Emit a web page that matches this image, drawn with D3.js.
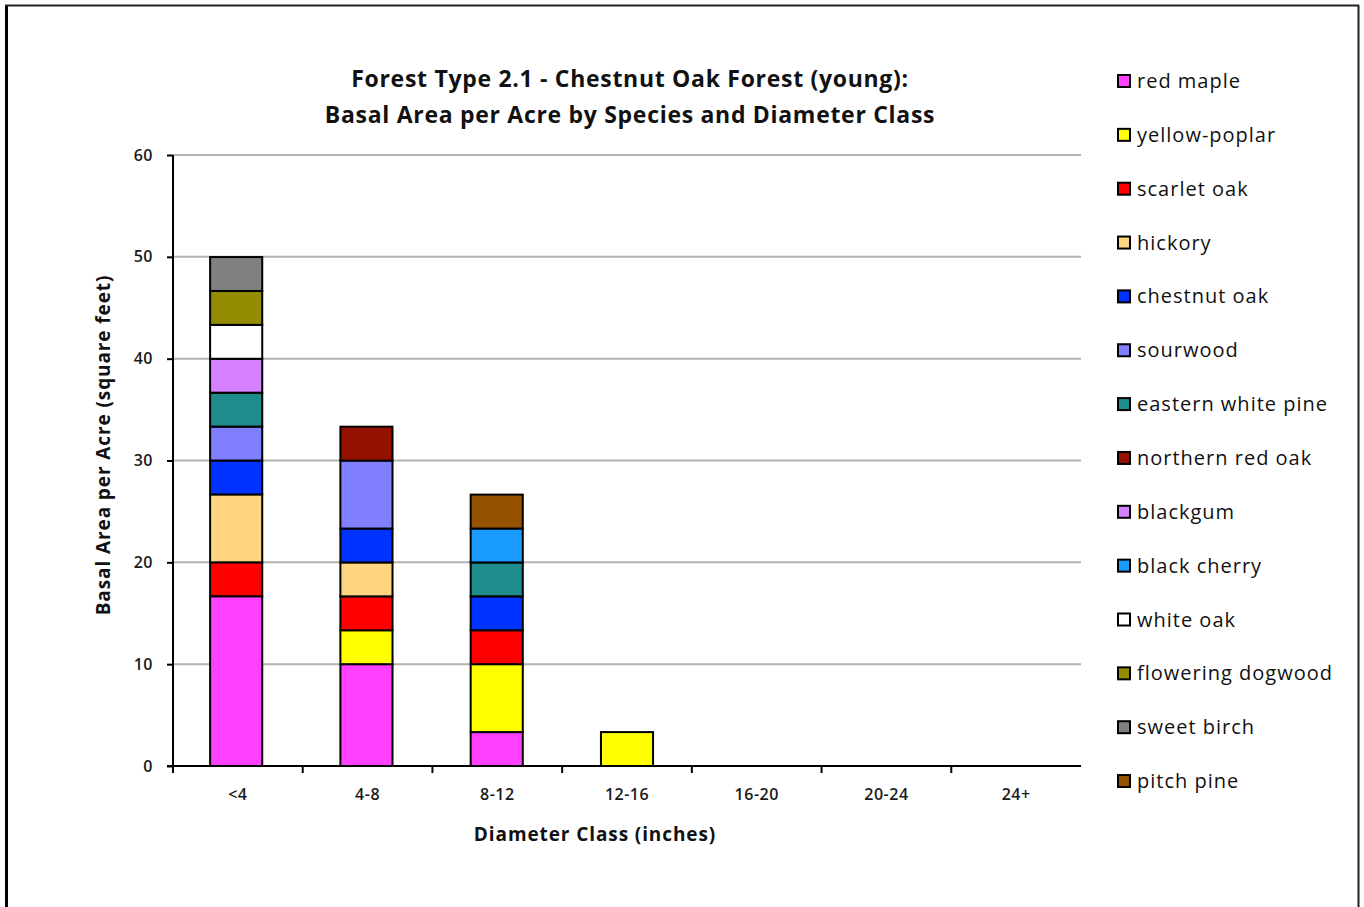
<!DOCTYPE html>
<html>
<head>
<meta charset="utf-8">
<script src="https://cdn.jsdelivr.net/npm/d3@7"></script>
<style>
  html, body { margin: 0; padding: 0; background: #fff; }
  svg { display: block; font-family: "Open Sans", Lato, sans-serif; }
</style>
</head>
<body>
<svg id="chart" width="1364" height="907"></svg>
<script>
// Diameter classes along the x axis
const diameterClasses = ["<4", "4-8", "8-12", "12-16", "16-20", "20-24", "24+"];

// Species in stacking / legend order
const species = ["red maple", "yellow-poplar", "scarlet oak", "hickory", "chestnut oak",
  "sourwood", "eastern white pine", "northern red oak", "blackgum", "black cherry",
  "white oak", "flowering dogwood", "sweet birch", "pitch pine"];

const speciesColors = ["#FF40FF", "#FFFF00", "#FF0000", "#FFD580", "#0033FF",
  "#8080FF", "#1F8C8C", "#941100", "#D580FF", "#1A9BFF",
  "#FFFFFF", "#948C00", "#808080", "#945200"];

// Basal area (sq ft / acre) per species, one value per diameter class
const redMaple         = [16.67, 10,    3.33, 0,    0, 0, 0];
const yellowPoplar     = [0,     3.33,  6.67, 3.33, 0, 0, 0];
const scarletOak       = [3.33,  3.33,  3.33, 0,    0, 0, 0];
const hickory          = [6.67,  3.33,  0,    0,    0, 0, 0];
const chestnutOak      = [3.33,  3.33,  3.33, 0,    0, 0, 0];
const sourwood         = [3.33,  6.67,  0,    0,    0, 0, 0];
const easternWhitePine = [3.33,  0,     3.33, 0,    0, 0, 0];
const northernRedOak   = [0,     3.33,  0,    0,    0, 0, 0];
const blackgum         = [3.33,  0,     0,    0,    0, 0, 0];
const blackCherry      = [0,     0,     3.33, 0,    0, 0, 0];
const whiteOak         = [3.33,  0,     0,    0,    0, 0, 0];
const floweringDogwood = [3.33,  0,     0,    0,    0, 0, 0];
const sweetBirch       = [3.33,  0,     0,    0,    0, 0, 0];
const pitchPine        = [0,     0,     3.33, 0,    0, 0, 0];

const yTicks = [0, 10, 20, 30, 40, 50, 60];

const seriesValues = [redMaple, yellowPoplar, scarletOak, hickory, chestnutOak,
  sourwood, easternWhitePine, northernRedOak, blackgum, blackCherry,
  whiteOak, floweringDogwood, sweetBirch, pitchPine];

// Build rows for d3.stack
const rows = diameterClasses.map((c, i) => {
  const r = { cls: c };
  species.forEach((s, j) => { r[s] = seriesValues[j][i]; });
  return r;
});

const svg = d3.select("#chart");

// Page frame
svg.append("line").attr("x1", 6.5).attr("y1", 5).attr("x2", 6.5).attr("y2", 907)
  .attr("stroke", "#000").attr("stroke-width", 3);
svg.append("line").attr("x1", 5).attr("y1", 5.5).attr("x2", 1359).attr("y2", 5.5)
  .attr("stroke", "#222").attr("stroke-width", 2);
svg.append("line").attr("x1", 1358.5).attr("y1", 5).attr("x2", 1358.5).attr("y2", 907)
  .attr("stroke", "#222").attr("stroke-width", 2);

const plot = { left: 173, right: 1081, top: 155, bottom: 766 };

const x = d3.scaleBand().domain(diameterClasses)
  .range([plot.left, plot.right]).paddingInner(0.6).paddingOuter(0.285);
const xEdge = d3.scaleBand().domain(diameterClasses).range([plot.left, plot.right]);
const y = d3.scaleLinear().domain([0, 60]).range([plot.bottom, plot.top]);

// Gridlines
svg.append("g").selectAll("line").data(yTicks.filter(t => t > 0)).join("line")
  .attr("x1", plot.left).attr("x2", plot.right)
  .attr("y1", d => y(d)).attr("y2", d => y(d))
  .attr("stroke", "#B3B3B3").attr("stroke-width", 2);

// Stacked bars
const stack = d3.stack().keys(species);
const layers = stack(rows);
svg.append("g").selectAll("g").data(layers).join("g")
  .attr("fill", (d, i) => speciesColors[i])
  .selectAll("rect").data(d => d.filter(p => p[1] - p[0] > 0)).join("rect")
  .attr("x", d => x(d.data.cls))
  .attr("width", x.bandwidth())
  .attr("y", d => y(d[1]))
  .attr("height", d => y(d[0]) - y(d[1]))
  .attr("stroke", "#000").attr("stroke-width", 2);

// Y axis
const yAxis = d3.axisLeft(y).tickValues(yTicks).tickSize(6).tickPadding(14);
const gy = svg.append("g").attr("transform", `translate(${plot.left},0)`).call(yAxis);
gy.select(".domain").attr("stroke", "#000").attr("stroke-width", 2)
  .attr("d", `M0,${plot.top}V${plot.bottom}`);
gy.selectAll(".tick line").attr("stroke", "#000").attr("stroke-width", 2);
gy.selectAll(".tick text").attr("font-size", 16).attr("font-weight", 600)
  .attr("fill", "#1a1a1a").attr("font-family", "'Open Sans', sans-serif")
  .attr("letter-spacing", 0.5);

// X axis with ticks at category boundaries
const gx = svg.append("g").attr("transform", `translate(0,${plot.bottom})`);
gx.append("line").attr("x1", plot.left - 6).attr("x2", plot.right)
  .attr("stroke", "#000").attr("stroke-width", 2);
const edges = diameterClasses.map(c => xEdge(c));
gx.selectAll("line.edge").data(edges).join("line").attr("class", "edge")
  .attr("x1", d => d).attr("x2", d => d).attr("y1", 0).attr("y2", 7)
  .attr("stroke", "#000").attr("stroke-width", 2);
gx.selectAll("text").data(diameterClasses).join("text")
  .attr("x", d => xEdge(d) + xEdge.bandwidth() / 2)
  .attr("y", 34).attr("text-anchor", "middle")
  .attr("font-size", 16).attr("font-weight", 600).attr("fill", "#1a1a1a")
  .attr("letter-spacing", 0.5)
  .text(d => d);

// Titles
const title = svg.append("text").attr("x", 630).attr("text-anchor", "middle")
  .attr("font-size", 23).attr("font-weight", 700).attr("fill", "#111")
  .attr("letter-spacing", 0.7);
title.append("tspan").attr("x", 630).attr("y", 87).text("Forest Type 2.1 - Chestnut Oak Forest (young):");
title.append("tspan").attr("x", 630).attr("y", 123).text("Basal Area per Acre by Species and Diameter Class");

svg.append("text").attr("x", 595).attr("y", 841).attr("text-anchor", "middle")
  .attr("font-size", 19).attr("font-weight", 700).attr("fill", "#111")
  .attr("letter-spacing", 0.9)
  .text("Diameter Class (inches)");

svg.append("text").attr("transform", "translate(110,445) rotate(-90)")
  .attr("text-anchor", "middle")
  .attr("font-size", 19).attr("font-weight", 700).attr("fill", "#111")
  .attr("letter-spacing", 0.9)
  .text("Basal Area per Acre (square feet)");

// Legend
const legend = svg.append("g");
const legendItem = legend.selectAll("g").data(species).join("g")
  .attr("transform", (d, i) => `translate(1118,${81 + i * 53.85})`);
legendItem.append("rect").attr("x", 0).attr("y", -6).attr("width", 12).attr("height", 12)
  .attr("fill", (d, i) => speciesColors[i]).attr("stroke", "#000").attr("stroke-width", 2);
legendItem.append("text").attr("x", 19).attr("y", 7)
  .attr("font-size", 20).attr("fill", "#111").attr("letter-spacing", 1)
  .text(d => d);
</script>
</body>
</html>
